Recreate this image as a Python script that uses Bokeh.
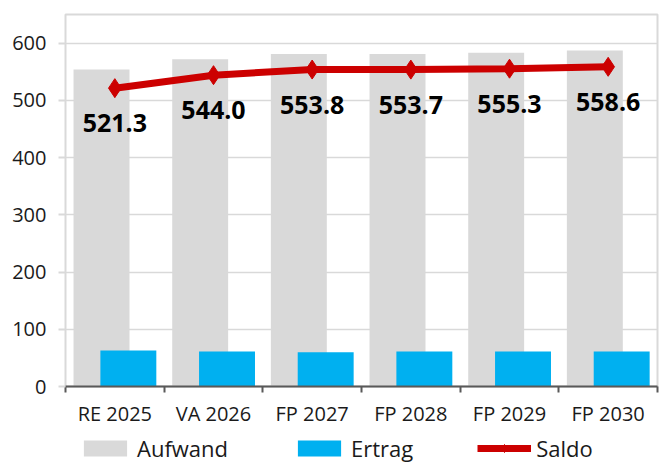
import numpy as np
from bokeh.plotting import figure
from bokeh.layouts import column
from bokeh.models import ColumnDataSource, FixedTicker, Range1d, Legend, LegendItem
from bokeh.core.properties import value
from bokeh.embed import file_html
from bokeh.resources import INLINE

categories = ["RE 2025", "VA 2026", "FP 2027", "FP 2028", "FP 2029", "FP 2030"]
aufwand = [554, 572, 581, 581, 583, 587]
ertrag = [63, 61, 60, 61, 61, 61]
saldo = [521.3, 544.0, 553.8, 553.7, 555.3, 558.6]
y_ticks = [0, 100, 200, 300, 400, 500, 600]
series_names = ["Aufwand", "Ertrag", "Saldo"]

GRAY = "#d9d9d9"
BLUE = "#00b0f0"
RED = "#cc0000"
FONT = "Open Sans"

x = np.arange(len(categories)) + 0.5
src = ColumnDataSource(dict(
    x=x, xa=x - 0.135, xe=x + 0.137,
    aufwand=aufwand, ertrag=ertrag, saldo=saldo,
    lbl=[f"{v:.1f}" for v in saldo],
))

p = figure(width=660, height=432, output_backend="svg", toolbar_location=None,
           x_range=Range1d(0, len(categories)), y_range=Range1d(0, 650),
           min_border_left=65, min_border_right=3, min_border_top=14, min_border_bottom=46)

r_a = p.vbar(x="xa", top="aufwand", width=0.567, source=src, fill_color=GRAY, line_color=None)
r_e = p.vbar(x="xe", top="ertrag", width=0.567, source=src, fill_color=BLUE, line_color=None)
r_l = p.line(x="x", y="saldo", source=src, line_color=RED, line_width=7)
r_m = p.scatter(x="x", y="saldo", source=src, marker="diamond", size=19, fill_color=RED, line_color=RED)
p.text(x="x", y="saldo", text="lbl", source=src, text_font=value(FONT), text_font_style="bold",
       text_font_size="25px", text_align="center", text_baseline="middle", y_offset=35,
       text_color="#000000")

# x axis
xa = p.xaxis[0]
xa.ticker = FixedTicker(ticks=list(x), minor_ticks=list(range(len(categories) + 1)))
xa.major_label_overrides = {float(xi): c for xi, c in zip(x, categories)}
xa.major_tick_out = 0
xa.major_tick_in = 0
xa.minor_tick_out = 6
xa.minor_tick_in = 0
xa.minor_tick_line_color = "#595959"
xa.minor_tick_line_width = 2
xa.axis_line_color = "#595959"
xa.axis_line_width = 2
xa.major_label_text_font = FONT
xa.major_label_text_font_size = "20px"
xa.major_label_text_color = "#1a1a1a"
xa.major_label_standoff = 7

# y axis
ya = p.yaxis[0]
ya.ticker = FixedTicker(ticks=y_ticks)
ya.axis_line_color = None
ya.major_tick_line_color = GRAY
ya.major_tick_line_width = 2
ya.major_tick_out = 7
ya.major_tick_in = 0
ya.minor_tick_line_color = None
ya.major_label_text_font = FONT
ya.major_label_text_font_size = "20px"
ya.major_label_text_color = "#1a1a1a"
ya.major_label_standoff = 12

p.xgrid.visible = False
p.ygrid.grid_line_color = GRAY
p.ygrid.grid_line_width = 1.5
p.outline_line_color = GRAY
p.outline_line_width = 2

# legend strip below the chart (proxy renderers sit outside its visible range)
lf = figure(width=660, height=31, output_backend="svg", toolbar_location=None,
            x_range=Range1d(0, 1), y_range=Range1d(0, 1),
            min_border_left=65, min_border_right=3, min_border_top=0, min_border_bottom=0)
lf.axis.visible = False
lf.grid.visible = False
lf.outline_line_color = None
proxy = ColumnDataSource(dict(x=[-5], y=[-5]))
la = lf.vbar(x="x", top="y", width=0.1, source=proxy, fill_color=GRAY, line_color=None)
le = lf.vbar(x="x", top="y", width=0.1, source=proxy, fill_color=BLUE, line_color=None)
ll = lf.line(x="x", y="y", source=proxy, line_color=RED, line_width=7)
lm = lf.scatter(x="x", y="y", source=proxy, marker="diamond", size=19, fill_color=RED, line_color=RED)

legend = Legend(items=[
    LegendItem(label=series_names[0], renderers=[la]),
    LegendItem(label=series_names[1], renderers=[le]),
    LegendItem(label=series_names[2], renderers=[ll, lm]),
], location=(13, 0), orientation="horizontal", spacing=64, glyph_width=54, glyph_height=20,
    label_text_font=FONT, label_text_font_size="22px", label_text_color="#1a1a1a",
    border_line_alpha=0, background_fill_alpha=0, padding=0, margin=0, label_standoff=5)
lf.add_layout(legend, "center")

layout = column(p, lf, spacing=0)
open("out.html", "w").write(file_html(layout, INLINE))
